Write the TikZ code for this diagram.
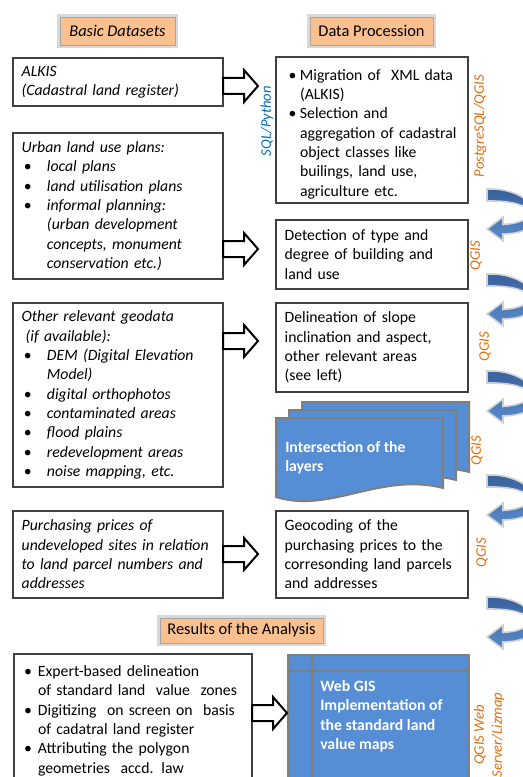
\documentclass[tikz,border=0pt]{standalone}
\usepackage{fontspec}
\setmainfont{Carlito}
\usetikzlibrary{positioning}
\definecolor{headorange}{RGB}{250,192,144}
\definecolor{toolorange}{RGB}{228,108,10}
\definecolor{toolblue}{RGB}{0,112,192}
\definecolor{layerblue}{RGB}{85,142,213}
\definecolor{layergray}{RGB}{127,127,127}
\definecolor{turndark}{RGB}{55,95,155}
\definecolor{turnlight}{RGB}{88,140,205}
\newcommand{\bodyfont}{\fontsize{11.8pt}{14.5pt}\selectfont}
\newcommand{\headfont}{\fontsize{12.3pt}{14.5pt}\selectfont}
\newcommand{\toolfont}{\fontsize{11pt}{13.5pt}\selectfont}
\newcommand{\bul}[3]{\par\noindent\hangindent=#2\hangafter=1\makebox[#2][l]{\hspace{#1}\upshape\textbullet}#3\par}
\newcommand{\ditem}[1]{\bul{1.75pt}{19pt}{#1}}
\newcommand{\pitem}[1]{\bul{3pt}{11.5pt}{#1}}
\newcommand{\ritem}[1]{\bul{1pt}{11.5pt}{#1}}
\tikzstyle{heading} = [rectangle, draw=gray!70, fill=headorange, preaction={draw=gray!30, line width=5pt}, minimum height=21pt, inner sep=0pt, font=\headfont]
\tikzstyle{databox} = [rectangle, draw=black!75, line width=0.9pt, anchor=north west, outer sep=0pt, align=left, inner xsep=6.5pt, inner ysep=2pt, text width=144.5pt, font=\bodyfont\itshape]
\tikzstyle{procbox} = [rectangle, draw=black!75, line width=0.9pt, anchor=north west, outer sep=0pt, align=left, inner xsep=6.5pt, inner ysep=2pt, text width=131pt, font=\bodyfont]
\tikzstyle{tool} = [rotate=90, inner sep=0pt, text=toolorange, font=\toolfont\itshape]
\tikzstyle{layer} = [draw=layergray, line width=1.5pt, fill=layerblue]
\tikzstyle{layertext} = [anchor=north west, inner sep=0pt, align=left, text=white, font=\bodyfont\bfseries]
\tikzstyle{fatarrow} = [draw=black, line width=1.5pt, fill=white, line join=miter]
\tikzstyle{turn} = [draw=gray!35, line width=1.2pt, top color=turndark, bottom color=turnlight]
\tikzset{
  bigarrow/.pic={\path[fatarrow] (0,-8) -- (21,-8) -- (21,-16) -- (35,0) -- (21,16) -- (21,8) -- (0,8) -- cycle;},
  uturn/.pic={\path[turn] (0,-6) .. controls (50,-8) and (72,38) .. (16,39) -- (16,46) -- (0,34) -- (16,22) -- (16,29.5) .. controls (55,27) and (52,5) .. (0,6) -- cycle;}
}
\begin{document}
\begin{tikzpicture}[x=0.75pt, y=-0.75pt]
    \useasboundingbox (0,0) rectangle (523,777);
    \clip (0,0) rectangle (523,777);

    % headings
    \node (basic) [heading, minimum width=86.25pt, font=\headfont\itshape] at (117.5,31) {Basic Datasets};
    \node (proc) [heading, minimum width=92.25pt] at (371.5,31) {Data Procession};
    \node (results) [heading, minimum width=122.25pt, minimum height=18.75pt] at (241.5,630.5) {Results of the Analysis};

    % basic datasets
    \node (alkis) [databox, minimum height=36pt] at (13,58) {ALKIS\\(Cadastral land register)};
    \node (urban) [databox, minimum height=109.5pt] at (13,133) {Urban land use plans:
        \ditem{local plans}
        \ditem{land utilisation plans}
        \ditem{informal planning:\newline (urban development\newline concepts, monument\newline conservation etc.)}};
    \node (geo) [databox, minimum height=138pt] at (13,303) {Other relevant geodata\\\hspace*{3pt}(if available):
        \ditem{DEM (Digital Elevation\newline Model)}
        \ditem{digital orthophotos}
        \ditem{contaminated areas}
        \ditem{flood plains}
        \ditem{redevelopment areas}
        \ditem{noise mapping, etc.}};
    \node (prices) [databox, minimum height=65.25pt] at (13,511) {Purchasing prices of\\undeveloped sites in relation\\to land parcel numbers and\\addresses};
    \node (expert) [databox, font=\bodyfont, text width=165.5pt, minimum height=93.75pt] at (14,654) {\ritem{Expert-based delineation\newline of standard land\ \ value\ \ zones}
        \ritem{Digitizing\ \ on screen on\ \ basis\newline of cadatral land register}
        \ritem{Attributing the polygon\newline geometries\ \ accd. law}};

    % processing
    \node (migr) [procbox, minimum height=109.5pt] at (276,57) {\pitem{Migration of\ \ XML data\newline (ALKIS)}
        \pitem{Selection and\newline aggregation of cadastral\newline object classes like\newline builings, land use,\newline agriculture etc.}};
    \node (detect) [procbox, minimum height=51.75pt] at (276,220) {Detection of type and\\degree of building and\\land use};
    \node (slope) [procbox, minimum height=66.75pt] at (276,303) {Delineation of slope\\inclination and aspect,\\other relevant areas\\(see left)};
    \node (geocode) [procbox, minimum height=65.25pt] at (276,511) {Geocoding of the\\purchasing prices to the\\corresonding land parcels\\and addresses};

    % stacked layers
    \foreach \dx/\dy in {26/-16, 13/-8, 0/0}
        \path[layer, shift={(276+\dx,418+\dy)}] (0,0) -- (167,0) -- (167,70) .. controls (104,54) and (54,96) .. (0,79) -- cycle;
    \node (intersect) [layertext] at (285,441) {Intersection of the\\layers};

    % web gis
    \node (webgis) [layer, anchor=north west, minimum width=135.75pt, minimum height=93.75pt, inner sep=0pt, outer sep=0pt] at (288,655) {};
    \draw [draw=layergray, line width=1.5pt] ([xshift=18pt]webgis.north west) -- ([xshift=18pt]webgis.south west);
    \draw [draw=layergray, line width=1.5pt] ([yshift=-12pt]webgis.north west) -- ([yshift=-12pt]webgis.north east);
    \node (webtext) [layertext] at ([xshift=24pt, yshift=-19pt]webgis.north west) {Web GIS\\Implementation of\\the standard land\\value maps};

    % block arrows
    \pic at (alkis.east |- 0,86) {bigarrow};
    \pic at (urban.east |- 0,249) {bigarrow};
    \pic at (geo.east |- 0,341) {bigarrow};
    \pic at (prices.east |- 0,554) {bigarrow};
    \pic at (expert.east |- 0,713) {bigarrow};

    % tools
    \node (sqlpy) [tool, text=toolblue] at (267,121) {SQL/Python};
    \node (pgqgis) [tool] at (480,126) {PostgreSQL/QGIS};
    \node (qgisa) [tool] at (476,256) {QGIS};
    \node (qgisb) [tool] at (485,347) {QGIS};
    \node (qgisc) [tool] at (477,451) {QGIS};
    \node (qgisd) [tool] at (482,553) {QGIS};
    \node (qgisweb) [tool, align=center] at (489,735) {QGIS Web\\Server/Lizmap};

    % turning arrows
    \foreach \y in {195,280,377,481,603}
        \pic at (487,\y) {uturn};
\end{tikzpicture}
\end{document}
